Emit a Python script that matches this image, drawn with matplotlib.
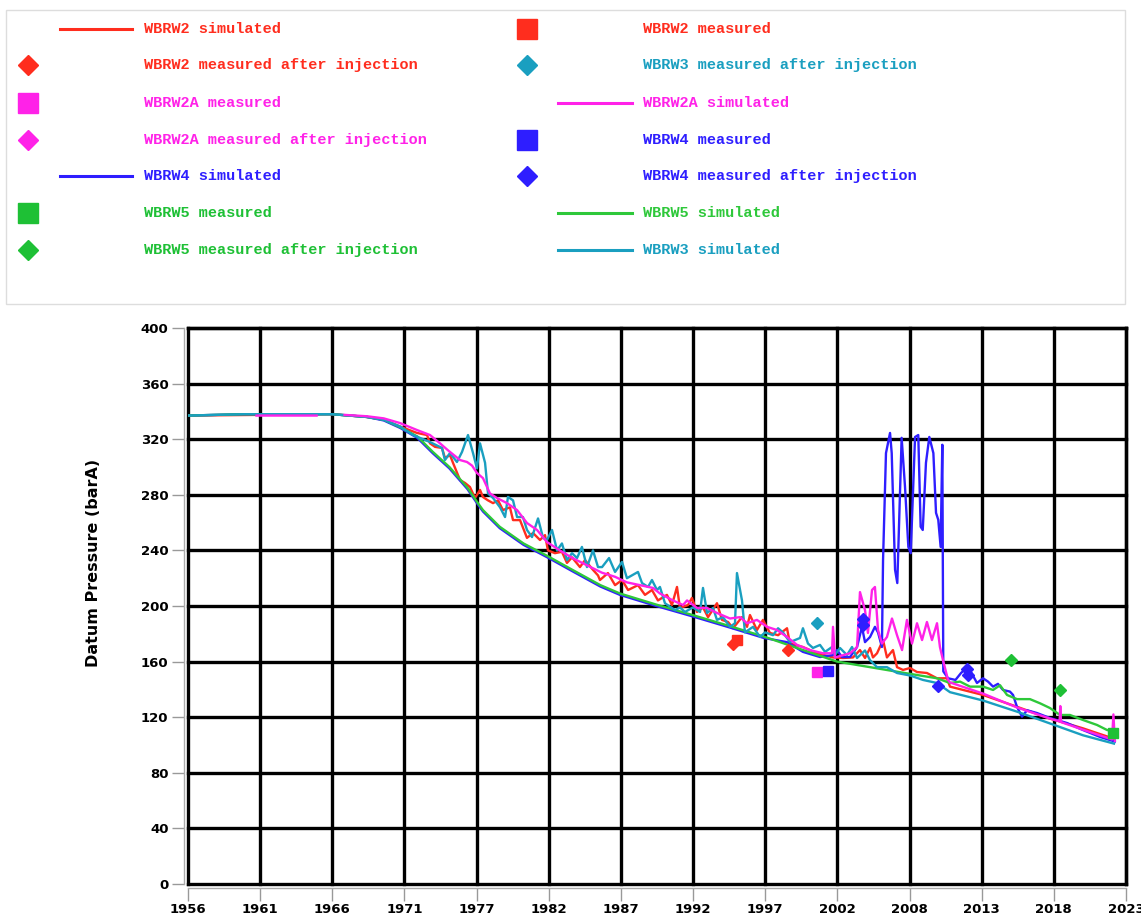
import numpy as np
import matplotlib
matplotlib.use("Agg")
import matplotlib.pyplot as plt
from matplotlib.lines import Line2D
from matplotlib.patches import Rectangle

# ---------------------------------------------------------------- colours
RED = "#ff2d1e"
MAGENTA = "#ff22e8"
BLUE = "#2e1eff"
GREEN = "#1ec035"
GREEN_LINE = "#2ec83a"
CYAN = "#1a9fc0"

# ---------------------------------------------------------------- axis text
y_label = "Datum Pressure (barA)"
xtick_labels = ["1956", "1961", "1966", "1971", "1977", "1982", "1987",
                "1992", "1997", "2002", "2008", "2013", "2018", "2023"]
ytick_values = [0, 40, 80, 120, 160, 200, 240, 280, 320, 360, 400]

# ---------------------------------------------------------------- simulated series
wbrw2_sim_year = [1956.0, 1966.3, 1968.8, 1970.0, 1971.2, 1972.38, 1973.1, 1973.31, 1973.67,
                  1974.17, 1974.38, 1974.74, 1974.96, 1975.46, 1975.82, 1976.17, 1976.53,
                  1976.89, 1977.1, 1977.46, 1977.82, 1978.18, 1978.53, 1979.03, 1979.25,
                  1979.75, 1980.25, 1980.68, 1981.18, 1981.54, 1981.75, 1982.25, 1982.75,
                  1983.11, 1983.47, 1984.04, 1984.4, 1984.97, 1985.33, 1985.47, 1986.04,
                  1986.55, 1987.05, 1987.48, 1988.19, 1988.69, 1989.19, 1989.62, 1990.26,
                  1990.62, 1990.98, 1991.19, 1991.77, 1992.05, 1992.41, 1992.84, 1993.2,
                  1993.84, 1994.2, 1994.63, 1994.99, 1995.63, 1995.99, 1996.2, 1996.7,
                  1997.13, 1997.63, 1998.21, 1998.85, 1999.06, 1999.99, 2001.0, 2002.14,
                  2002.86, 2003.57, 2004.07, 2004.43, 2004.79, 2005.0, 2005.29, 2005.72,
                  2006.0, 2006.43, 2006.72, 2007.15, 2007.65, 2008.15, 2008.86, 2009.58,
                  2010.29, 2010.51, 2012.87, 2015.3, 2017.66, 2020.02, 2022.24]
wbrw2_sim_bar = [337, 338, 336, 334, 329, 324.5, 323, 317, 314.5,
                 313.7, 306.5, 308.6, 302.9, 290.6, 288.5, 285.6, 277.7,
                 283.5, 278.4, 276, 274, 276, 269, 271, 261.8,
                 261.8, 249, 252.5, 247.5, 251, 240, 238, 239,
                 231, 235, 228, 233, 226, 222, 218.7, 223.7,
                 215, 218.7, 211.5, 215, 208, 211.5, 204, 208,
                 200.7, 213.7, 198.6, 200.7, 205.8, 195.7, 199, 192,
                 202, 190, 188.5, 184, 192, 185, 193.5, 182.7,
                 190, 180.6, 179, 184, 173, 170.5, 166, 163,
                 162.6, 163, 168.3, 162.6, 169.8, 163, 166, 175.5,
                 163, 168.3, 156, 154, 155.4, 152.5, 151.8, 148,
                 148, 142, 136, 127.5, 119, 112, 104.5]

wbrw2a_sim_year = [1960.9, 1965.2, 1965.3, 1967.2, 1968.8, 1970.0, 1971.17, 1972.38, 1973.31,
                   1974.03, 1974.6, 1975.46, 1975.96, 1976.32, 1976.67, 1977.1, 1977.6,
                   1978.1, 1978.82, 1979.54, 1980.25, 1980.97, 1981.68, 1982.6, 1983.5,
                   1984.5, 1985.6, 1986.55, 1987.4, 1988.33, 1989.26, 1989.76, 1990.69,
                   1991.41, 1991.7, 1992.41, 1993.13, 1993.84, 1994.77, 1995.49, 1995.99,
                   1996.7, 1997.42, 1998.14, 1998.85, 1999.57, 2000.49, 2001.42, 2002.07,
                   2002.14, 2002.28, 2003.36, 2003.86, 2004.07, 2004.43, 2004.64, 2004.93,
                   2005.14, 2005.36, 2005.64, 2006.0, 2006.36, 2006.72, 2007.08, 2007.43,
                   2007.79, 2008.15, 2008.51, 2008.86, 2009.22, 2009.58, 2009.79, 2010.01,
                   2010.37, 2010.51, 2012.87, 2015.3, 2017.66, 2018.35, 2018.4, 2018.45,
                   2020.02, 2022.1, 2022.2, 2022.3]
wbrw2a_sim_bar = [337, 337, np.nan, 337.5, 336.5, 335, 331.6, 326.6, 323,
                  317, 312, 305, 303.6, 301, 295.7, 292, 281,
                  277.7, 274, 269, 259.7, 254.7, 246, 240, 234.5,
                  229.5, 224, 221, 217, 215, 213, 209, 204,
                  200.7, 204, 198.6, 198.6, 195, 191, 192, 187.6,
                  190, 185, 182.7, 177.7, 172, 168.3, 166, 166,
                  185, 163, 166, 170.5, 210, 197, 180.6, 211.5,
                  213.7, 182.7, 173, 177.7, 191, 179, 168.3, 190,
                  173, 187.6, 175.5, 188.5, 175.5, 187.6, 170.5, 161,
                  146.8, 145, 137, 127, 119, 117, 128, 116.5,
                  111, 104, 122, 103]

wbrw4_sim_year = [1956.0, 1960.0, 1966.3, 1968.8, 1970.0, 1971.2, 1972.4, 1973.5, 1974.7,
                  1976.0, 1976.67, 1977.1, 1978.3, 1980.0, 1981.8, 1983.5, 1985.5, 1986.9,
                  1989.5, 1992.1, 1994.6, 1997.2, 1998.85, 1999.99, 2001.21, 2002.14,
                  2002.43, 2002.78, 2003.36, 2003.86, 2004.21, 2004.43, 2004.79, 2005.14,
                  2005.36, 2005.64, 2005.72, 2005.93, 2006.22, 2006.34, 2006.58, 2006.74,
                  2007.05, 2007.29, 2007.53, 2007.7, 2008.01, 2008.24, 2008.41, 2008.56,
                  2008.79, 2009.03, 2009.32, 2009.51, 2009.67, 2009.84, 2009.96, 2010.03,
                  2010.37, 2010.9, 2011.3, 2011.8, 2012.44, 2012.87, 2013.23, 2013.59,
                  2013.94, 2014.3, 2014.8, 2015.02, 2015.3, 2015.66, 2016.02, 2016.73,
                  2017.66, 2018.88, 2020.02, 2021.24, 2022.3]
wbrw4_sim_bar = [337, 338, 338, 336, 333.5, 328, 321, 310, 299,
                 284, 274, 268, 256, 244, 234.5, 225, 214, 208,
                 200, 192.5, 185, 177, 174, 167, 163.3, 164.7,
                 168.3, 163.3, 163.3, 170.5, 185, 174, 177.7, 185,
                 181, 170.5, 233, 310, 324.5, 310, 226, 216.5,
                 321, 286, 242.5, 238, 321.6, 323, 257, 254.7,
                 303, 321.6, 310, 267, 262, 242.5, 316, 153,
                 148, 146.8, 151.8, 156.4, 144.6, 148, 145.6, 142,
                 144, 139.6, 138.4, 136, 127.5, 120.4, 125, 123,
                 119.4, 115.8, 110.8, 105.8, 102.5]

wbrw5_sim_year = [1956.0, 1960.0, 1966.3, 1968.8, 1970.0, 1971.2, 1972.4, 1973.5, 1974.7,
                  1976.0, 1976.67, 1977.1, 1978.3, 1980.0, 1981.8, 1983.5, 1985.5, 1986.9,
                  1989.5, 1992.1, 1994.6, 1997.2, 1999.8, 2002.43, 2004.79, 2007.15,
                  2009.58, 2010.51, 2011.23, 2011.94, 2012.87, 2013.59, 2014.09, 2014.59,
                  2015.3, 2016.23, 2016.95, 2017.66, 2018.38, 2019.09, 2020.02, 2021.03,
                  2021.74, 2022.31]
wbrw5_sim_bar = [337, 338, 338, 336, 334, 328.5, 322, 311, 300,
                 285, 275, 269, 257, 245, 235.5, 226, 215, 209,
                 201, 193.5, 186, 178, 169, 160, 156, 152,
                 148, 144.6, 145.6, 142, 142, 139.6, 143, 136,
                 133, 133, 130, 126.6, 121.6, 121.6, 118, 114.4,
                 110.8, 109.7]

wbrw3_sim_year = [1956.0, 1960.0, 1966.3, 1968.8, 1970.0, 1971.2, 1972.1, 1973.3, 1974.17,
                  1974.38, 1974.74, 1975.24, 1975.6, 1976.03, 1976.39, 1976.67, 1976.89,
                  1977.25, 1977.46, 1977.82, 1978.32, 1978.68, 1978.89, 1979.25, 1979.54,
                  1979.96, 1980.25, 1980.61, 1981.04, 1981.4, 1981.68, 1982.04, 1982.4,
                  1982.75, 1983.11, 1983.47, 1983.83, 1984.18, 1984.54, 1984.97, 1985.33,
                  1985.62, 1986.12, 1986.55, 1987.05, 1987.4, 1988.19, 1988.48, 1988.91,
                  1989.19, 1989.55, 1989.76, 1990.12, 1990.84, 1991.19, 1991.55, 1992.12,
                  1992.63, 1992.84, 1993.13, 1993.56, 1993.84, 1994.27, 1994.77, 1995.13,
                  1995.27, 1995.63, 1995.84, 1996.42, 1996.92, 1997.28, 1997.85, 1998.21,
                  1998.56, 1999.06, 1999.78, 1999.99, 2000.35, 2000.71, 2001.21, 2001.57,
                  2002.07, 2002.28, 2002.64, 2003.14, 2003.5, 2003.86, 2004.43, 2004.79,
                  2005.29, 2006.0, 2006.72, 2007.65, 2008.58, 2009.58, 2010.51, 2012.87,
                  2015.3, 2017.66, 2020.02, 2022.24]
wbrw3_sim_bar = [337, 338, 338, 336, 334, 329, 323, 318, 313.7,
                 305, 310, 303.6, 310.8, 323, 310, 299, 317,
                 303, 281, 277.7, 271, 264, 278.5, 276, 264,
                 264, 254.7, 249.6, 263, 249, 247.5, 254.7, 240,
                 245, 233, 238, 234.5, 242.5, 228, 240, 228,
                 228, 234.5, 224.5, 231.7, 220, 224.5, 216.5, 213.7,
                 218.7, 211.5, 213.7, 202, 197, 199, 195.7, 199,
                 195.7, 213, 195, 198.6, 190, 192, 185, 187.6,
                 223.7, 204, 181, 185, 177.7, 181, 179, 184,
                 181, 174, 177, 184, 173, 169.8, 172, 167,
                 170.5, 164.7, 169.8, 164.7, 170.5, 162.6, 168, 161,
                 156, 156, 151.8, 150, 146.8, 144.6, 138, 132,
                 124, 115.5, 107, 101]

# ---------------------------------------------------------------- measured points
wbrw2_meas_year, wbrw2_meas_bar = [1995.3], [175.5]
wbrw2_inj_year, wbrw2_inj_bar = [1995.0, 1998.9], [173, 168.5]
wbrw3_inj_year, wbrw3_inj_bar = [2001.0], [188]
wbrw2a_meas_year, wbrw2a_meas_bar = [2001.0], [152.5]
wbrw2a_inj_year, wbrw2a_inj_bar = [2004.3], [188]
wbrw4_meas_year, wbrw4_meas_bar = [2001.8], [153.5]
wbrw4_inj_year = [2004.3, 2004.3, 2009.65, 2011.7, 2011.8]
wbrw4_inj_bar = [191, 186, 142.5, 154.5, 150.5]
wbrw5_meas_year, wbrw5_meas_bar = [2022.2], [108.5]
wbrw5_inj_year, wbrw5_inj_bar = [2014.9, 2018.4], [161, 139.6]

# ---------------------------------------------------------------- figure
W, H = 1141, 916
fig = plt.figure(figsize=(W / 100, H / 100), dpi=100)
fig.patch.set_facecolor("white")

X0, X1 = 1956.0, 2023.1
ax = fig.add_axes([188 / W, 1 - 884 / H, (1126 - 188) / W, (884 - 328) / H])
ax.set_xlim(X0, X1)
ax.set_ylim(0, 400)

# frame: thin grey axis lines slightly outside, black border on the other sides
for side in ("left", "bottom"):
    ax.spines[side].set_position(("outward", 3))
    ax.spines[side].set_color("#aaaaaa")
    ax.spines[side].set_linewidth(1)
for side in ("top", "right"):
    ax.spines[side].set_color("black")
    ax.spines[side].set_linewidth(2.4)

lw = 1.7
ax.plot(wbrw2_sim_year, wbrw2_sim_bar, color=RED, lw=lw, zorder=3)
ax.plot(wbrw4_sim_year, wbrw4_sim_bar, color=BLUE, lw=lw, zorder=3.1)
ax.plot(wbrw5_sim_year, wbrw5_sim_bar, color=GREEN_LINE, lw=lw, zorder=3.2)
ax.plot(wbrw3_sim_year, wbrw3_sim_bar, color=CYAN, lw=lw, zorder=3.3)
ax.plot(wbrw2a_sim_year, wbrw2a_sim_bar, color=MAGENTA, lw=lw, zorder=3.4)

ms_sq, ms_d = 7.5, 6.5
ax.plot(wbrw2a_inj_year, wbrw2a_inj_bar, "D", color=MAGENTA, ms=ms_d, zorder=4)
ax.plot(wbrw2_meas_year, wbrw2_meas_bar, "s", color=RED, ms=ms_sq, zorder=4)
ax.plot(wbrw2_inj_year, wbrw2_inj_bar, "D", color=RED, ms=ms_d, zorder=4)
ax.plot(wbrw3_inj_year, wbrw3_inj_bar, "D", color=CYAN, ms=ms_d, zorder=4)
ax.plot(wbrw2a_meas_year, wbrw2a_meas_bar, "s", color=MAGENTA, ms=ms_sq, zorder=4)
ax.plot(wbrw4_meas_year, wbrw4_meas_bar, "s", color=BLUE, ms=ms_sq, zorder=4)
ax.plot(wbrw4_inj_year, wbrw4_inj_bar, "D", color=BLUE, ms=ms_d, zorder=4)
ax.plot(wbrw5_inj_year, wbrw5_inj_bar, "D", color=GREEN, ms=ms_d, zorder=4)
ax.plot(wbrw5_meas_year, wbrw5_meas_bar, "s", color=GREEN, ms=ms_sq, zorder=4)

# ticks and grid
ax.tick_params(axis="both", colors="#999999", length=9, width=1,
               labelcolor="black", pad=2)
ax.set_xticks(np.linspace(X0, X1, len(xtick_labels)))
ax.set_xticklabels(xtick_labels, fontweight="bold", fontsize=9.5)
ax.set_yticks(ytick_values)
ax.set_yticklabels([str(v) for v in ytick_values], fontweight="bold", fontsize=9.5)
ax.grid(True, color="black", lw=2.4, zorder=1)
for gl in ax.xaxis.get_gridlines() + ax.yaxis.get_gridlines():
    gl.set_clip_on(False)

fig.text(93 / W, 1 - 563 / H, y_label, rotation=90, ha="center", va="center",
         fontsize=11.5, fontweight="bold")

# ---------------------------------------------------------------- legend panel
lg = fig.add_axes([0, 0, 1, 1], zorder=5)
lg.set_xlim(0, W)
lg.set_ylim(H, 0)
lg.axis("off")
lg.add_patch(Rectangle((6, 10), 1119, 294, fill=False, edgecolor="#dddddd", lw=1))

legend_left = [
    ("line", RED, "WBRW2 simulated"),
    ("D", RED, "WBRW2 measured after injection"),
    ("s", MAGENTA, "WBRW2A measured"),
    ("D", MAGENTA, "WBRW2A measured after injection"),
    ("line", BLUE, "WBRW4 simulated"),
    ("s", GREEN, "WBRW5 measured"),
    ("D", GREEN, "WBRW5 measured after injection"),
]
legend_right = [
    ("s", RED, "WBRW2 measured"),
    ("D", CYAN, "WBRW3 measured after injection"),
    ("line", MAGENTA, "WBRW2A simulated"),
    ("s", BLUE, "WBRW4 measured"),
    ("D", BLUE, "WBRW4 measured after injection"),
    ("line", GREEN_LINE, "WBRW5 simulated"),
    ("line", CYAN, "WBRW3 simulated"),
]
row_y = [29, 65, 103, 140, 176, 213, 250]
columns = [(legend_left, 28, 60, 132, 144), (legend_right, 527, 558, 632, 643)]
for entries, mx, lx0, lx1, tx in columns:
    for (kind, col, text), y in zip(entries, row_y):
        if kind == "line":
            lg.add_line(Line2D([lx0, lx1], [y, y], color=col, lw=2.2))
        elif kind == "s":
            lg.add_line(Line2D([mx], [y], marker="s", ms=14, color=col, lw=0))
        else:
            lg.add_line(Line2D([mx], [y], marker="D", ms=10, color=col, lw=0))
        lg.text(tx, y, text, color=col, fontsize=11, fontweight="bold",
                family="Liberation Mono", va="center", ha="left")

fig.savefig("out.png", dpi=100)
